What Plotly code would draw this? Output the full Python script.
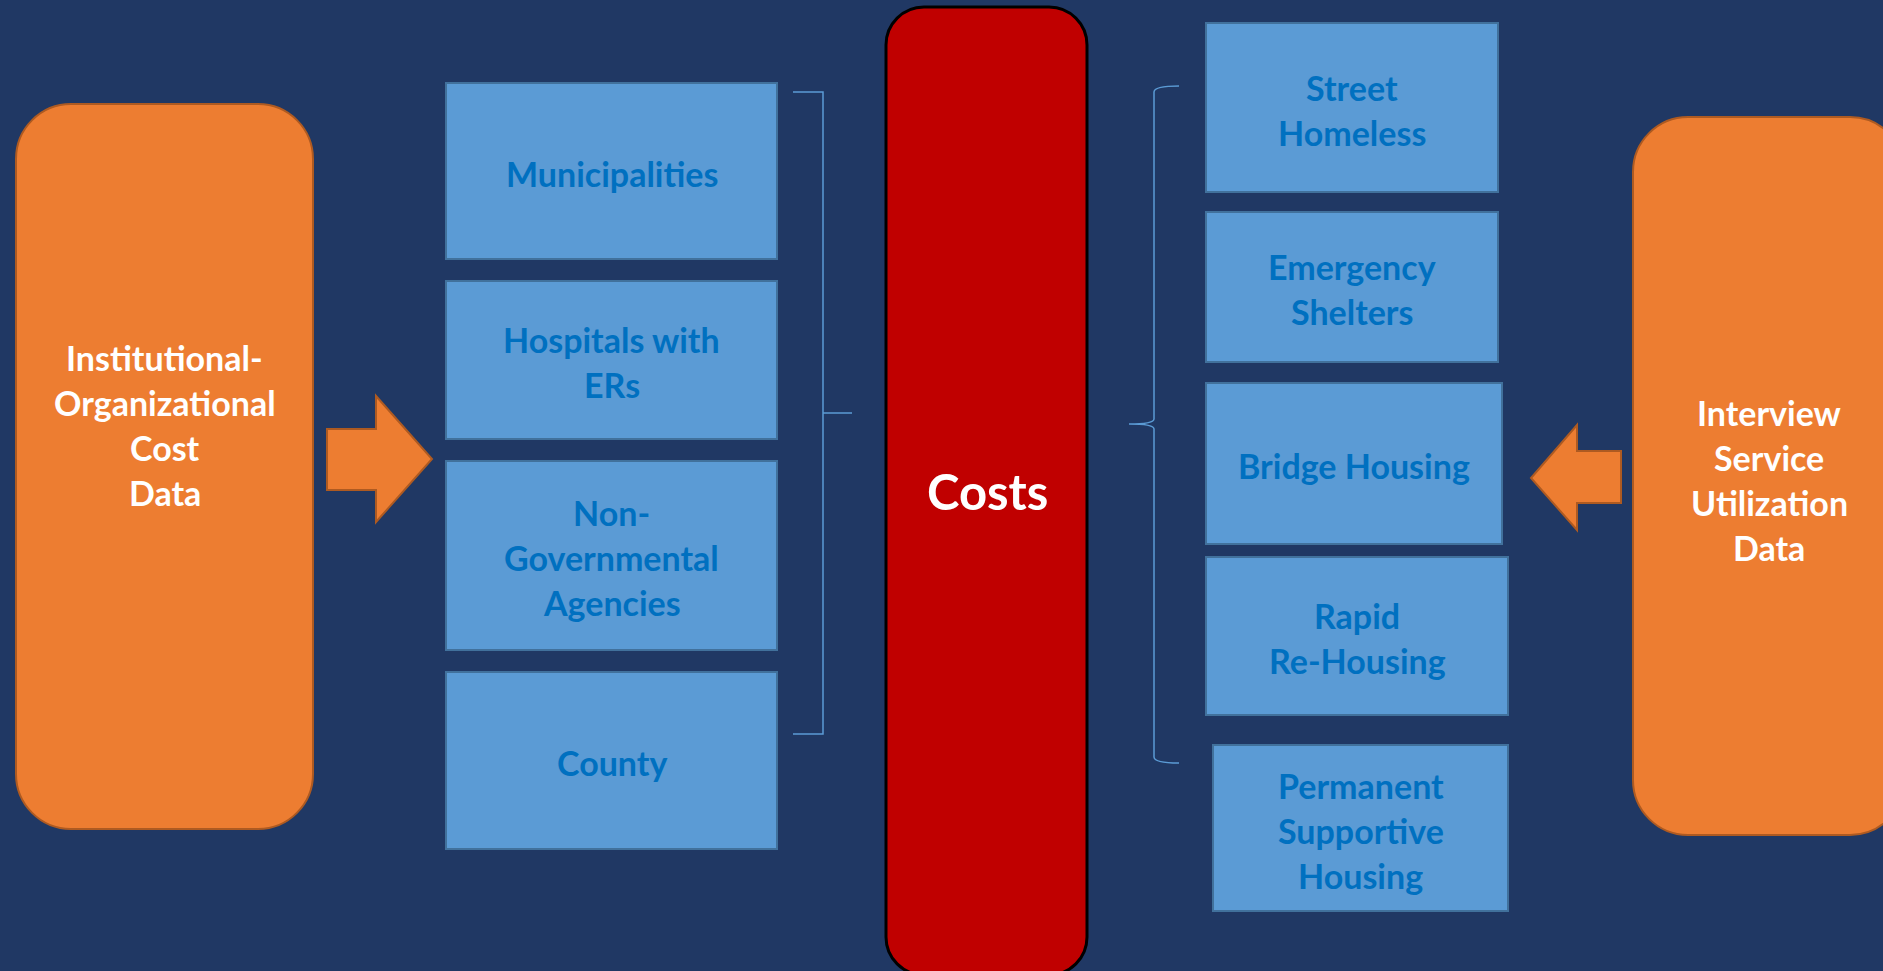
import plotly.graph_objects as go

# labels of the diagram
source_left = ["Institutional-", "Organizational", "Cost", "Data"]
source_right = ["Interview", "Service", "Utilization", "Data"]
center_label = "Costs"
payers = [["Municipalities"], ["Hospitals with", "ERs"],
          ["Non-", "Governmental", "Agencies"], ["County"]]
housing = [["Street", "Homeless"], ["Emergency", "Shelters"], ["Bridge Housing"],
           ["Rapid", "Re-Housing"], ["Permanent", "Supportive", "Housing"]]

# geometry (pixels, y downwards)
payer_boxes = [(446, 83, 777, 259), (446, 281, 777, 439),
               (446, 461, 777, 650), (446, 672, 777, 849)]
housing_boxes = [(1206, 23, 1498, 192), (1206, 212, 1498, 362), (1206, 383, 1502, 544),
                 (1206, 557, 1508, 715), (1213, 745, 1508, 911)]

bg = '#203864'
orange = '#ED7D31'
orangeLine = '#AE5A21'
blue = '#5B9BD5'
blueLine = '#41719C'
blueText = '#0070C0'
red = '#C00000'
font = 'Lato'
lineGap = 45
textSize = 34


def roundRect(x0, y0, x1, y1, r):
    k = 0.5523 * r
    return (f"M{x0+r},{y0} L{x1-r},{y0} C{x1-r+k},{y0} {x1},{y0+r-k} {x1},{y0+r} "
            f"L{x1},{y1-r} C{x1},{y1-r+k} {x1-r+k},{y1} {x1-r},{y1} "
            f"L{x0+r},{y1} C{x0+r-k},{y1} {x0},{y1-r+k} {x0},{y1-r} "
            f"L{x0},{y0+r} C{x0},{y0+r-k} {x0+r-k},{y0} {x0+r},{y0} Z")


def poly(pts):
    return "M" + " L".join(f"{x},{y}" for x, y in pts) + " Z"


shapes = []
annotations = []


def addLines(lines, cx, cy, color, size):
    n = len(lines)
    for i, t in enumerate(lines):
        annotations.append(dict(x=cx, y=cy + (i - (n - 1) / 2) * lineGap, text=t,
                                showarrow=False, xref='x', yref='y',
                                font=dict(family=font, size=size, color=color, weight='bold')))


# orange source boxes
shapes.append(dict(type='path', path=roundRect(16, 104, 313, 829, 55),
                   fillcolor=orange, line=dict(color=orangeLine, width=2)))
shapes.append(dict(type='path', path=roundRect(1633, 117, 1905, 835, 55),
                   fillcolor=orange, line=dict(color=orangeLine, width=2)))
addLines(source_left, 164.5, 425, 'white', textSize)
addLines(source_right, 1769, 480, 'white', textSize)

# arrows
shapes.append(dict(type='path', path=poly([(327, 429), (376, 429), (376, 396), (432, 459),
                                           (376, 522), (376, 490), (327, 490)]),
                   fillcolor=orange, line=dict(color=orangeLine, width=2)))
shapes.append(dict(type='path', path=poly([(1621, 451), (1577, 451), (1577, 425), (1531, 478),
                                           (1577, 530), (1577, 503), (1621, 503)]),
                   fillcolor=orange, line=dict(color=orangeLine, width=2)))

# red central box
shapes.append(dict(type='path', path=roundRect(886, 7, 1087, 975, 38),
                   fillcolor=red, line=dict(color='black', width=3)))
annotations.append(dict(x=987, y=491, text=center_label, showarrow=False, xref='x', yref='y',
                        font=dict(family=font, size=49, color='white', weight='bold')))

# blue boxes
for (x0, y0, x1, y1), lab in zip(payer_boxes, payers):
    shapes.append(dict(type='rect', x0=x0, y0=y0, x1=x1, y1=y1,
                       fillcolor=blue, line=dict(color=blueLine, width=2)))
    addLines(lab, (x0 + x1) / 2, (y0 + y1) / 2 + 2, blueText, textSize)
for (x0, y0, x1, y1), lab in zip(housing_boxes, housing):
    shapes.append(dict(type='rect', x0=x0, y0=y0, x1=x1, y1=y1,
                       fillcolor=blue, line=dict(color=blueLine, width=2)))
    addLines(lab, (x0 + x1) / 2, (y0 + y1) / 2 + 2, blueText, textSize)

# brackets
shapes.append(dict(type='path', path="M793,92 L823,92 L823,734 L793,734",
                   line=dict(color=blue, width=1.5)))
shapes.append(dict(type='path', path="M823,413 L852,413", line=dict(color=blue, width=1.5)))
shapes.append(dict(type='path',
                   path="M1179,86 Q1154,86 1154,92 L1154,419 Q1154,424 1129,424 "
                        "Q1154,424 1154,429 L1154,757 Q1154,763 1179,763",
                   line=dict(color=blue, width=1.5)))

fig = go.Figure()
fig.update_layout(
    width=1883, height=971,
    margin=dict(l=0, r=0, t=0, b=0),
    paper_bgcolor=bg, plot_bgcolor=bg,
    xaxis=dict(range=[0, 1883], visible=False, fixedrange=True),
    yaxis=dict(range=[971, 0], visible=False, fixedrange=True),
    shapes=shapes, annotations=annotations, showlegend=False,
)

# drop the page margin so the figure sits flush in the window
fig.write_html("out.html", config=dict(displayModeBar=False),
               post_script="document.body.style.margin='0';document.body.style.overflow='hidden';")
